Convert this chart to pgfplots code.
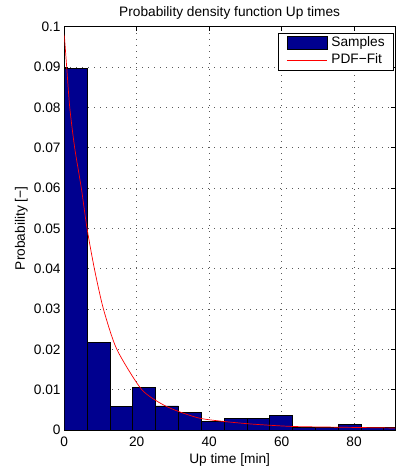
\documentclass[border=0pt]{standalone}
\usepackage{pgfplots}
\pgfplotsset{compat=1.18}
\usepackage{fontspec}
\setmainfont{Liberation Sans}
\definecolor{barblue}{RGB}{0,0,143}
\begin{document}
\begin{tikzpicture}
\begin{axis}[
  scale only axis,
  width=330.7bp, height=403.3bp,
  at={(0,0)}, anchor=south west,
  font=\fontsize{13.7bp}{16bp}\selectfont,
  xmin=0, xmax=91.3, ymin=0, ymax=0.1,
  xtick={0,20,40,60,80},
  xticklabels={0,20,40,60,80},
  ytick={0,0.01,0.02,0.03,0.04,0.05,0.06,0.07,0.08,0.09,0.1},
  yticklabels={0,0.01,0.02,0.03,0.04,0.05,0.06,0.07,0.08,0.09,0.1},
  /pgf/number format/assume math mode=true,
  scaled y ticks=false,
  tick align=inside,
  major tick length=4bp,
  minor tick num=0,
  grid=major,
  major grid style={black!65, line width=0.6bp, dash pattern=on 0.8bp off 5.2bp},
  axis line style={black, line width=0.6bp},
  every tick/.style={black, line width=0.6bp},
  xticklabel style={anchor=base, inner sep=0pt, yshift=-16.7bp},
  yticklabel style={anchor=east, inner sep=0pt, xshift=-3.5bp},
  title={Probability density function Up times},
  title style={at={(axis description cs:0.5,1)}, anchor=base, inner sep=0pt, yshift=3.98bp},
  xlabel={Up time [min]},
  xlabel style={at={(axis description cs:0.5,0)}, anchor=base, inner sep=0pt, yshift=-33.3bp},
  ylabel={Probability [−]},
  ylabel style={at={(axis description cs:-0.119,0.5)}, anchor=base, inner sep=0pt},
  legend cell align=left,
  legend style={at={(axis description cs:1,1)}, anchor=north east, xshift=-1bp, yshift=-6.3bp,
    draw=black, line width=0.6bp, inner xsep=8bp, inner ysep=2.5bp, row sep=2bp,
    font=\fontsize{13.7bp}{16bp}\selectfont,
    nodes={inner sep=1bp, text height=10bp, text depth=3bp},
    /tikz/every odd column/.append style={column sep=3.2bp}},
]
\addplot[ybar interval, fill=barblue, draw=black, line width=0.6bp,
  legend image code/.code={\draw[fill=barblue, draw=black, line width=0.6bp] (0bp,-6.5bp) rectangle (40bp,6.5bp);}]
  coordinates {
  (0,0.0896) (6.3,0.0218) (12.6,0.0059) (18.9,0.0105) (25.2,0.0060)
  (31.5,0.0044) (37.8,0.0022) (44.1,0.0029) (50.4,0.0029) (56.7,0.0037)
  (63.0,0.0006) (69.3,0.0006) (75.6,0.0014) (81.9,0.0006) (88.2,0.0006) (94.5,0.0006)
  };
\addlegendentry{Samples}
\addplot[red, line width=0.7bp, smooth, tension=0.4,
  legend image code/.code={\draw[red, line width=0.7bp] (0bp,0bp) -- (40bp,0bp);}]
  coordinates {
  (0,0.098) (0.66,0.09) (1.5,0.08) (2.86,0.07) (4.7,0.06) (6.27,0.05) (8.3,0.04)
  (10.8,0.03) (14.5,0.02) (21.4,0.01) (28.3,0.0058) (37.5,0.0029) (50,0.0016)
  (62.4,0.0009) (75,0.0007) (91.3,0.0005)
  };
\addlegendentry{PDF−Fit}
\end{axis}
\pgfresetboundingbox
\path (-64.3bp,-40bp) rectangle (331.7bp,430bp);
\end{tikzpicture}
\end{document}
